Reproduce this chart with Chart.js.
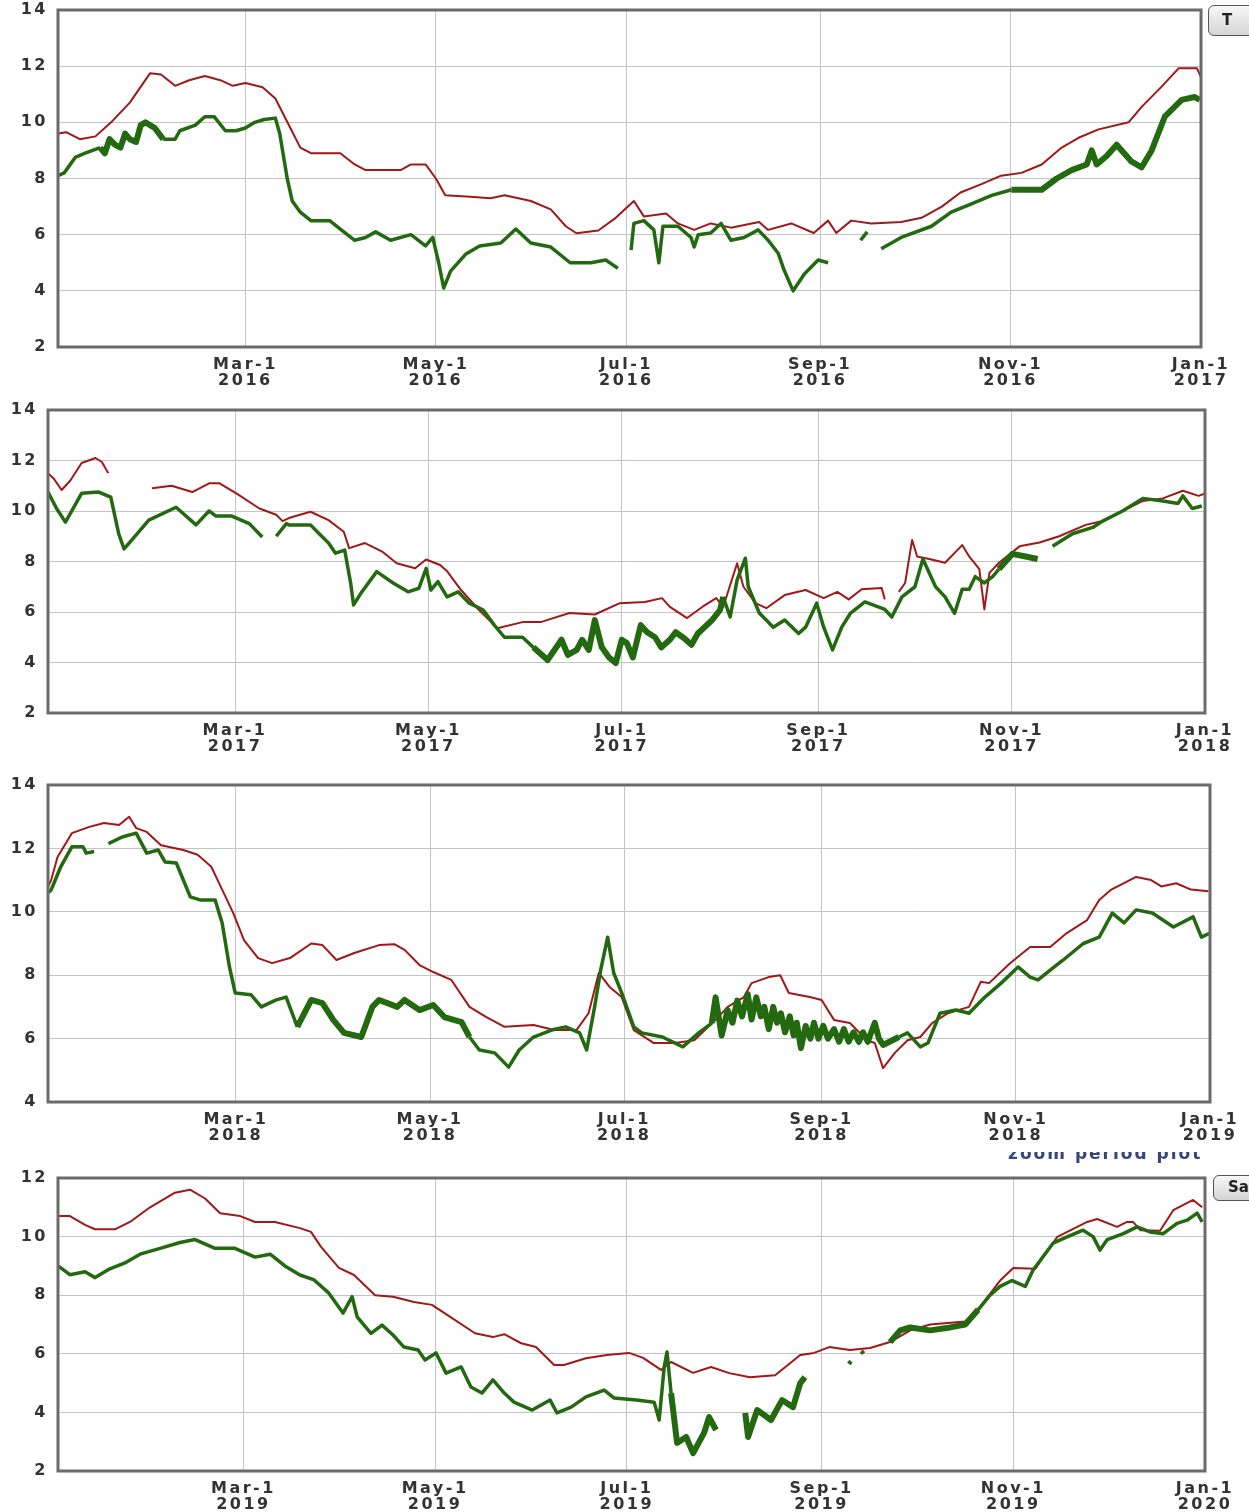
<!DOCTYPE html>
<html>
<head>
<meta charset="utf-8">
<script src="https://cdn.jsdelivr.net/npm/chart.js@4.4.1/dist/chart.umd.min.js"></script>
<style>
  html, body { margin: 0; padding: 0; background: #fff; }
  body { width: 1249px; height: 1512px; position: relative; overflow: hidden; font-family: 'DejaVu Sans', Verdana, sans-serif; }
  canvas { position: absolute; left: 0; }
  .btn { position: absolute; box-sizing: border-box; border: 1.5px solid #555; border-radius: 6px;
         background: linear-gradient(#f7f7f7, #d5d5d5); font-weight: bold; font-size: 15px; color: #222; z-index: 5; }
  .zoomclip { position: absolute; left: 1008px; top: 1152px; width: 215px; height: 13px; overflow: hidden; z-index: 5; }
  .zoomclip span { position: absolute; left: 0; top: -9px; font-size: 17px; font-weight: bold; letter-spacing: 2px; color: #34467a; white-space: nowrap; }
</style>
</head>
<body>
<canvas id="c2016"></canvas>
<canvas id="c2017"></canvas>
<canvas id="c2018"></canvas>
<canvas id="c2019"></canvas>
<div class="btn" style="left:1208px;top:5px;width:70px;height:31px;line-height:28px;padding-left:13px">T</div>
<div class="btn" style="left:1213px;top:1175px;width:70px;height:26px;line-height:23px;padding-left:14px">Sa</div>
<div class="zoomclip"><span>zoom period plot</span></div>
<script>
// tick labels / positions (day of year)
const monthLabels = ['Mar-1', 'May-1', 'Jul-1', 'Sep-1', 'Nov-1', 'Jan-1'];
const tickDaysLeap = [60, 121, 182, 244, 305, 366];
const tickDays = [59, 120, 181, 243, 304, 365];

// [day of year, value]; null = gap in the record
const red2016 = [[0,9.6],[2.6,9.65],[7,9.4],[12,9.5],[17,10.0],[23,10.7],[29.5,11.75],[33,11.7],[37.5,11.3],[42,11.5],[47,11.65],[52,11.5],[56,11.3],[60,11.4],[65.5,11.25],[69.6,10.85],[74.4,9.8],[77.6,9.1],[81,8.9],[90.4,8.9],[95,8.5],[98.5,8.3],[109.7,8.3],[113,8.5],[117.7,8.5],[121,8.0],[124,7.4],[132,7.35],[138.5,7.3],[143,7.4],[151.4,7.2],[157.8,6.9],[162.6,6.3],[166,6.05],[173,6.15],[178.6,6.6],[184.4,7.2],[187.6,6.65],[194.7,6.75],[198.5,6.4],[203.7,6.17],[209,6.4],[215.5,6.25],[224.5,6.45],[227.4,6.17],[234.8,6.4],[242,6.06],[246.6,6.5],[249.2,6.06],[254,6.5],[260.4,6.4],[270,6.45],[276.5,6.6],[283,7.0],[289,7.5],[295.7,7.8],[302,8.1],[308.5,8.2],[315,8.5],[321.4,9.1],[326.8,9.45],[333.2,9.75],[342.8,10.0],[347,10.55],[353.4,11.27],[358.9,11.93],[364.7,11.93],[366,11.6]];
const green2016 = [[0,8.1],[2,8.2],[5.5,8.75],[8.7,8.9],[13.5,9.1],[15,8.9],[16.5,9.4],[18.3,9.2],[20,9.1],[21.5,9.6],[23,9.4],[25,9.3],[26.5,9.9],[28,10.0],[31,9.8],[33.7,9.4],[37.5,9.4],[39,9.7],[44,9.9],[47,10.2],[50,10.2],[53.6,9.7],[57,9.7],[60,9.8],[63,10.0],[66,10.1],[69.6,10.15],[71,9.6],[73.4,8.0],[75,7.2],[77.6,6.8],[81,6.5],[87,6.5],[90.4,6.2],[95,5.8],[98.5,5.9],[101.7,6.1],[106.5,5.8],[113,6.0],[117.7,5.6],[120,5.9],[121.9,5.0],[123.5,4.1],[125.7,4.7],[130.5,5.3],[135,5.6],[141.8,5.7],[146.6,6.2],[151.4,5.7],[157.8,5.56],[164,5.0],[170.6,5.0],[175.4,5.1],[179.3,4.8],[180.5,null],[183.5,5.45],[184.4,6.4],[187.6,6.5],[190.8,6.17],[192.4,5.0],[193.7,6.3],[198.5,6.3],[202.7,5.9],[203.7,5.56],[205,6.0],[209,6.06],[212.3,6.4],[215.5,5.8],[219.7,5.9],[224.2,6.17],[227.4,5.8],[230.6,5.34],[232.5,4.74],[235.4,4.0],[239,4.6],[243.4,5.1],[246.6,5.0],[250,null],[257,5.8],[259.1,6.1],[261,null],[263.6,5.5],[270,5.9],[279.7,6.3],[286,6.8],[292.5,7.1],[299,7.4],[305.3,7.6],[315,7.6],[319.8,8.0],[324.6,8.3],[329.4,8.5],[331,9.0],[332.6,8.5],[335.8,8.8],[339,9.2],[340.6,9.0],[343.8,8.6],[347,8.4],[350.2,9.0],[354.4,10.2],[359.8,10.8],[364,10.9],[365.6,10.8]];

const red2017 = [[0,11.5],[1.7,11.3],[4.3,10.83],[7,11.2],[10.6,11.9],[15,12.1],[17,11.94],[19,11.5],[20,null],[32.8,10.9],[39,11.0],[45.5,10.75],[51,11.1],[54,11.1],[59.4,10.7],[66.7,10.1],[72,9.85],[74,9.6],[76,9.72],[82.8,9.97],[88.5,9.64],[93.3,9.18],[95,8.53],[100,8.73],[105.6,8.38],[110,7.93],[115.8,7.73],[119.3,8.08],[123.7,7.86],[126,7.6],[130.3,6.87],[136,6.08],[141.7,5.36],[149.7,5.6],[155.4,5.6],[164.5,5.96],[172.5,5.9],[180.4,6.35],[188.3,6.4],[193.7,6.55],[196.2,6.2],[201.6,5.76],[206.4,6.2],[210.8,6.55],[213,6.2],[217.4,7.93],[219.4,7.0],[223.2,6.35],[226.6,6.15],[232.4,6.67],[239,6.87],[244.7,6.55],[249,6.8],[252.6,6.5],[256.7,6.9],[263,6.95],[264,6.5],[266,null],[268.4,6.8],[270.4,7.15],[272.6,8.85],[274.2,8.2],[278,8.1],[283,7.95],[288.4,8.65],[290.6,8.2],[293.8,7.7],[295.4,6.1],[297,7.55],[300,7.95],[306.5,8.6],[312.8,8.75],[319,9.0],[327.4,9.45],[332.7,9.6],[339,10.0],[345.4,10.4],[351.7,10.5],[358,10.8],[363,10.6],[365,10.7]];
const green2017 = [[0,10.75],[2.7,10.1],[5.5,9.56],[10.6,10.7],[16,10.75],[19.8,10.55],[22.3,9.1],[24,8.5],[26.4,8.85],[31.8,9.64],[40.4,10.15],[46.7,9.45],[50.8,10.0],[53,9.8],[58,9.8],[63.5,9.5],[67.6,8.97],[69,null],[72,9.0],[75.2,9.5],[76,9.45],[82.8,9.45],[85.4,9.12],[88.5,8.73],[90.7,8.33],[93.6,8.45],[95.5,7.13],[96.4,6.28],[98.7,6.74],[103.7,7.6],[109,7.14],[113.6,6.8],[117,6.94],[119.3,7.73],[120.8,6.87],[123,7.2],[125.9,6.6],[129.4,6.8],[132.9,6.35],[137.3,6.08],[140.8,5.48],[144,5.0],[149.7,5.0],[153.1,4.6],[157.6,4.1],[162,4.9],[164,4.3],[166.8,4.5],[168.5,4.9],[170.6,4.5],[172.5,5.68],[174.7,4.6],[177,4.2],[179.1,3.98],[181,4.9],[182.6,4.77],[184.5,4.2],[187,5.48],[189,5.2],[191.5,5.0],[193.5,4.6],[196.2,4.9],[198,5.2],[200.7,4.96],[203,4.7],[205,5.15],[209.5,5.68],[212,6.08],[213,6.6],[215.2,5.8],[217.4,7.27],[220,8.13],[220.9,7.0],[224.4,5.96],[228.8,5.4],[232.4,5.68],[236.8,5.15],[239,5.4],[242.5,6.35],[244.7,5.4],[247.5,4.5],[250.4,5.4],[253.2,5.96],[257.7,6.4],[264,6.1],[266.2,5.8],[269.4,6.6],[273.5,7.0],[276,8.1],[280,7.0],[283,6.6],[286,5.95],[288.4,6.9],[290.6,6.9],[292.5,7.4],[295.4,7.15],[298,7.4],[300,7.7],[304.2,8.3],[308.4,8.2],[312.2,8.1],[314,null],[316.9,8.6],[323.2,9.1],[329.6,9.35],[332.7,9.6],[339,10.0],[345.4,10.5],[351.7,10.4],[356.5,10.3],[358,10.6],[361,10.1],[364,10.2]];

const red2018 = [[0,10.8],[1,11.0],[3,11.73],[7.5,12.48],[13,12.68],[17.6,12.8],[22.3,12.74],[25.5,13.0],[27.7,12.64],[31,12.52],[35.5,12.1],[42.5,11.95],[47,11.8],[51.3,11.42],[54.7,10.7],[58.2,9.96],[61.6,9.1],[66,8.54],[70.4,8.38],[76,8.54],[82.7,9.0],[86.2,8.95],[90.6,8.48],[96.2,8.7],[104,8.95],[108.8,8.98],[112,8.8],[116.7,8.32],[121,8.1],[126.7,7.85],[132.4,7.0],[137.7,6.68],[143.4,6.37],[152.5,6.43],[159,6.27],[166,6.27],[169.8,6.8],[173,8.07],[176.4,7.63],[180.2,7.31],[184,6.27],[190.3,5.86],[196.9,5.86],[203,5.95],[209.7,6.59],[213.5,7.0],[218.6,7.31],[221,7.75],[226.4,7.94],[230,8.0],[232.7,7.44],[239.3,7.31],[243,7.22],[246.9,6.59],[251.9,6.49],[257.2,5.95],[259.7,5.86],[262.3,5.07],[266,5.55],[270,5.95],[274,6.05],[277.7,6.49],[282.7,6.8],[289.3,7.0],[293,7.79],[295.6,7.75],[302.2,8.38],[308.5,8.89],[314.8,8.89],[320,9.33],[326.4,9.74],[330.2,10.37],[334,10.7],[341.8,11.1],[346.5,11.0],[349.7,10.8],[354.4,10.9],[359,10.7],[364.5,10.65]];
const green2018 = [[0,10.6],[1,10.69],[4,11.42],[7.5,12.05],[11,12.05],[12,11.85],[14.5,11.9],[16.5,null],[19,12.15],[23.3,12.36],[27.7,12.48],[31,11.85],[34.6,11.95],[36.8,11.57],[40.3,11.54],[44.7,10.47],[48,10.37],[52.5,10.37],[54.7,9.65],[57,8.26],[58.8,7.44],[63.8,7.38],[67,7.0],[71.7,7.22],[74.8,7.31],[78.3,6.37],[82.7,7.22],[86.2,7.12],[89.6,6.59],[93,6.18],[98.4,6.05],[101.9,7.0],[104,7.22],[109.7,7.0],[112,7.22],[116.7,6.9],[121,7.06],[124.5,6.68],[129.9,6.52],[132.4,6.05],[135.5,5.64],[140.3,5.55],[144.7,5.1],[148,5.64],[152.5,6.05],[158.2,6.27],[162.6,6.37],[167,6.18],[169.2,5.64],[171.7,7.0],[173.6,8.16],[175.8,9.2],[177.7,8.07],[180.2,7.44],[184,6.37],[186.5,6.18],[193,6.05],[199.4,5.74],[204.4,6.18],[208.5,6.49],[209.7,7.3],[211.6,6.1],[213.5,6.9],[215,6.5],[216.5,7.2],[218,6.7],[219.8,7.4],[221,6.6],[222.5,7.3],[223.9,6.7],[225,7.0],[226.4,6.3],[227.8,7.0],[229,6.5],[230.2,6.8],[231.5,6.2],[233,6.7],[234.2,6.1],[235.2,6.5],[236.5,5.7],[238,6.4],[239.5,6.0],[240.6,6.5],[242,6.0],[243.5,6.4],[245,6.0],[246.9,6.3],[248.5,5.9],[250,6.3],[251.5,5.9],[253,6.2],[254.7,5.9],[256,6.2],[257.5,5.9],[259.7,6.5],[261,6.0],[262.3,5.8],[267.3,6.05],[270,6.18],[274,5.74],[276.4,5.86],[280.2,6.8],[285.2,6.9],[289.3,6.8],[294.3,7.31],[299.4,7.75],[304.7,8.26],[308.5,7.94],[311,7.85],[314.8,8.16],[318.9,8.48],[325.2,9.0],[330.2,9.2],[334.3,9.96],[338,9.65],[341.8,10.06],[346.9,9.96],[353.5,9.52],[359.7,9.84],[362.3,9.2],[365,9.33]];

const red2019 = [[0,10.7],[3.8,10.7],[8.6,10.4],[11.8,10.25],[18.1,10.25],[22.9,10.5],[29.3,11.0],[37.2,11.5],[42,11.6],[46.8,11.3],[51.6,10.8],[58,10.7],[62.7,10.5],[69,10.5],[77,10.29],[80.5,10.16],[83.7,9.65],[89.4,8.93],[94.2,8.69],[100.9,8.0],[106.6,7.95],[113.3,7.77],[119,7.67],[124.8,7.26],[132.7,6.7],[138.4,6.57],[142,6.67],[147.4,6.36],[152.1,6.23],[157.9,5.62],[161,5.62],[168,5.85],[174.7,5.96],[181.7,6.03],[186.2,5.86],[191.9,5.45],[195.1,5.72],[202.1,5.35],[207.8,5.55],[213.6,5.34],[220.2,5.2],[228.2,5.27],[236.2,5.96],[240.6,6.03],[245.4,6.23],[252,6.13],[258.4,6.2],[264.8,6.4],[271.2,6.8],[277.5,7.0],[288.7,7.1],[293.4,7.6],[299.8,8.5],[304,8.93],[311,8.9],[313.5,9.3],[318,9.99],[327.5,10.5],[330.7,10.6],[337,10.33],[340.2,10.5],[342.1,10.5],[344.4,10.22],[350.7,10.2],[354.9,10.9],[361.2,11.25],[364.1,11.0]];
const green2019 = [[0,9.0],[3.8,8.7],[8.6,8.8],[11.8,8.6],[16.5,8.9],[21.3,9.1],[26.1,9.4],[32.5,9.6],[38.8,9.8],[43.6,9.9],[50,9.6],[56.3,9.6],[62.7,9.3],[67.5,9.4],[72.2,9.0],[77,8.69],[81.5,8.52],[86.2,8.07],[90.7,7.39],[93.6,7.95],[95.2,7.26],[99.6,6.7],[103.1,6.98],[106.6,6.64],[110.1,6.23],[114.6,6.13],[116.8,5.79],[120.3,6.03],[123.5,5.34],[128.3,5.55],[131.4,4.87],[134.9,4.66],[138.4,5.11],[142,4.66],[145.1,4.35],[150.9,4.08],[156.6,4.42],[158.8,3.98],[163.3,4.18],[168,4.53],[173.8,4.76],[177,4.49],[184,4.42],[189.7,4.35],[191.3,3.74],[192.9,5.55],[193.8,6.06],[195.1,4.66],[197,2.96],[199.9,3.16],[202.1,2.61],[205.6,3.3],[207.2,3.84],[209.4,3.4],[211,null],[218.7,3.98],[219.6,3.16],[222.5,4.08],[226.9,3.74],[230.4,4.42],[233.9,4.18],[236.2,5.0],[237.7,5.2],[240,null],[251.5,5.75],[252.5,5.65],[253.5,null],[255.5,6.0],[256.5,6.1],[258,null],[264.8,6.4],[268,6.8],[271.2,6.9],[277.5,6.8],[283.9,6.9],[288.7,7.0],[292.8,7.5],[296.6,8.0],[299.8,8.3],[303.6,8.5],[307.8,8.3],[310.3,8.86],[316.7,9.78],[321.1,9.99],[326.2,10.22],[329.4,10.0],[331.6,9.54],[333.9,9.9],[339,10.1],[343.4,10.33],[347.5,10.16],[351.7,10.1],[356.1,10.45],[359.3,10.56],[362.5,10.8],[364.1,10.5]];

// panel layout (plot area in page pixels); thick = day spans where the record is very noisy
const panels = [
    { id: 'c2016', year: 2016, red: red2016, green: green2016, ticks: tickDaysLeap, yMin: 2, yMax: 14,
      left: 58, right: 1201, top: 10, bottom: 347, thick: [[10, 32], [300, 366]] },
    { id: 'c2017', year: 2017, red: red2017, green: green2017, ticks: tickDays, yMin: 2, yMax: 14,
      left: 48, right: 1205, top: 410, bottom: 713, thick: [[150, 212], [300, 313]] },
    { id: 'c2018', year: 2018, red: red2018, green: green2018, ticks: tickDays, yMin: 4, yMax: 14,
      left: 48, right: 1210, top: 785, bottom: 1102, thick: [[75, 130], [205, 264]] },
    { id: 'c2019', year: 2019, red: red2019, green: green2019, ticks: tickDays, yMin: 2, yMax: 12,
      left: 58, right: 1205, top: 1178, bottom: 1471, thick: [[195, 240], [264, 290]] }
];

const PAD_TOP = 10;
const X_AXIS_H = 45;
const labelFont = { family: "'DejaVu Sans', Verdana, sans-serif", size: 16, weight: 'bold', lineHeight: 1.05 };

const framePlugin = {
    id: 'frame',
    beforeDraw(chart) {
        chart.ctx.letterSpacing = '2.5px';
    },
    afterDraw(chart) {
        const a = chart.chartArea;
        const ctx = chart.ctx;
        ctx.save();
        ctx.strokeStyle = '#6b6b6b';
        ctx.lineWidth = 3;
        ctx.strokeRect(a.left, a.top, a.right - a.left, a.bottom - a.top);
        ctx.restore();
    }
};

function toPoints(series) {
    return series.map(([x, y]) => ({ x: x, y: y }));
}

function inThick(p, x) {
    return p.thick.some(r => x >= r[0] && x <= r[1]);
}

panels.forEach(function(p) {
    const canvas = document.getElementById(p.id);
    canvas.width = 1249;
    canvas.height = p.bottom - p.top + PAD_TOP + X_AXIS_H;
    canvas.style.top = (p.top - PAD_TOP) + 'px';

    new Chart(canvas.getContext('2d'), {
        type: 'line',
        data: {
            datasets: [
                {
                    label: 'green',
                    data: toPoints(p.green),
                    borderColor: '#23690f',
                    borderWidth: 3.5,
                    pointRadius: 0,
                    tension: 0,
                    spanGaps: false,
                    borderJoinStyle: 'round',
                    segment: {
                        borderWidth: ctx => inThick(p, ctx.p0.parsed.x) ? 6 : 3.5
                    }
                },
                {
                    label: 'red',
                    data: toPoints(p.red),
                    borderColor: '#a01818',
                    borderWidth: 2,
                    pointRadius: 0,
                    tension: 0,
                    spanGaps: false,
                    borderJoinStyle: 'round'
                }
            ]
        },
        options: {
            responsive: false,
            animation: false,
            devicePixelRatio: 1,
            layout: { padding: { top: PAD_TOP, right: 1249 - p.right, left: 0, bottom: 0 } },
            plugins: { legend: { display: false }, tooltip: { enabled: false } },
            scales: {
                x: {
                    type: 'linear',
                    min: 0,
                    max: p.ticks[p.ticks.length - 1],
                    afterBuildTicks: axis => { axis.ticks = p.ticks.map(v => ({ value: v })); },
                    afterFit: s => { s.height = X_AXIS_H; },
                    border: { display: false },
                    grid: { color: '#c4c4c4', lineWidth: 1, drawTicks: false },
                    ticks: {
                        autoSkip: false,
                        maxRotation: 0,
                        padding: 9,
                        color: '#333',
                        font: labelFont,
                        callback: (v, i) => [monthLabels[i], String(i === 5 ? p.year + 1 : p.year)]
                    }
                },
                y: {
                    min: p.yMin,
                    max: p.yMax,
                    afterFit: s => { s.width = p.left; s.paddingTop = 0; s.paddingBottom = 0; },
                    border: { display: false },
                    grid: { color: '#c4c4c4', lineWidth: 1, drawTicks: false },
                    ticks: { stepSize: 2, padding: 10, color: '#333', font: labelFont }
                }
            }
        },
        plugins: [framePlugin]
    });
});
</script>
</body>
</html>
